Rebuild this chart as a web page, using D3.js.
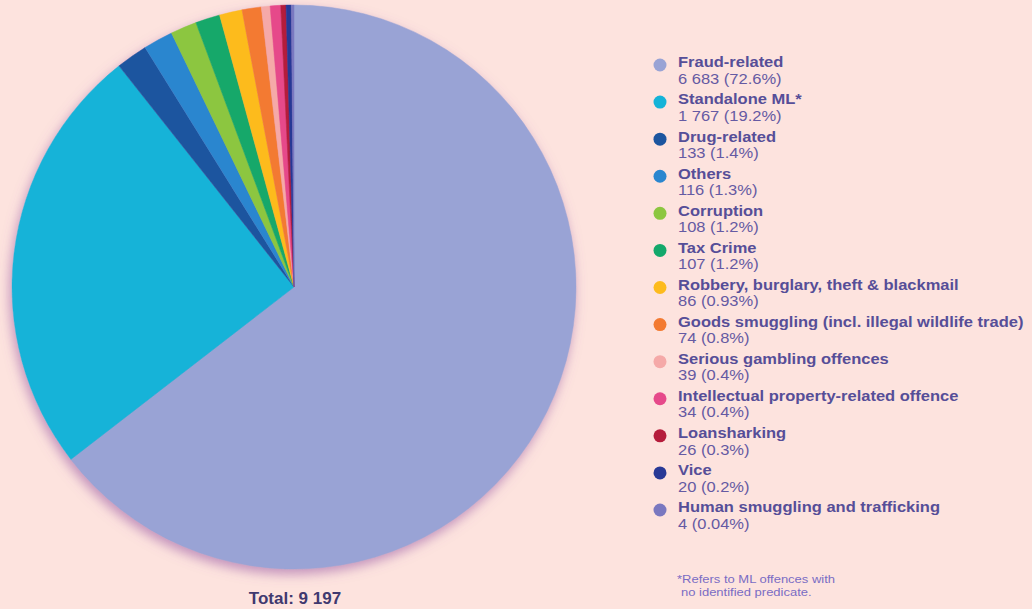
<!DOCTYPE html>
<html>
<head>
<meta charset="utf-8">
<script src="https://cdn.jsdelivr.net/npm/d3@7"></script>
<style>
  body { margin: 0; background: #fde3de; }
  svg { display: block; }
</style>
</head>
<body>
<script>
//Width and height
const w = 1032;
const h = 609;

// predicate offences (legend order = slice order)
const categories = ["Fraud-related", "Standalone ML*", "Drug-related", "Others", "Corruption",
    "Tax Crime", "Robbery, burglary, theft & blackmail",
    "Goods smuggling (incl. illegal wildlife trade)", "Serious gambling offences",
    "Intellectual property-related offence", "Loansharking", "Vice",
    "Human smuggling and trafficking"];
const counts = [6683, 1767, 133, 116, 108, 107, 86, 74, 39, 34, 26, 20, 4];
const percentLabels = ["72.6%", "19.2%", "1.4%", "1.3%", "1.2%", "1.2%", "0.93%", "0.8%",
    "0.4%", "0.4%", "0.3%", "0.2%", "0.04%"];
// share of the circle each slice takes in the original graphic (small ones are enlarged there)
const drawnShare = [64.5, 24.8, 1.8, 1.7, 1.5, 1.4, 1.3, 1.1, 0.5, 0.6, 0.3, 0.3, 0.15];

const colors = ["#99a3d5", "#14b3d8", "#1c559f", "#2a86cf", "#8cc640", "#13a86b", "#fdbb1d",
    "#f37a31", "#f5a9a8", "#e6498a", "#b51c3b", "#283996", "#7a78c0"];

const cx = 294, cy = 287, r = 282;

const svg = d3.select("body")
            .append("svg")
            .attr("width", w)
            .attr("height", h);

svg.append("rect")
    .attr("width", w)
    .attr("height", h)
    .attr("fill", "#fde3de");

const defs = svg.append("defs");
const shadow = defs.append("filter")
    .attr("id", "pieShadow")
    .attr("x", "-10%").attr("y", "-10%")
    .attr("width", "120%").attr("height", "120%");
shadow.append("feDropShadow")
    .attr("dx", -2)
    .attr("dy", 5)
    .attr("stdDeviation", 6)
    .attr("flood-color", "#9b5aa6")
    .attr("flood-opacity", 0.6);

const pie = d3.pie().sort(null).value((d) => d);
const arc = d3.arc().innerRadius(0).outerRadius(r);

const pieG = svg.append("g")
    .attr("transform", "translate(" + cx + "," + cy + ")")
    .attr("filter", "url(#pieShadow)");

pieG.selectAll("path")
    .data(pie(drawnShare))
    .join("path")
    .attr("d", arc)
    .attr("fill", (d, i) => colors[i])
    .attr("stroke", (d, i) => colors[i])
    .attr("stroke-width", 0.5);

// total under the pie
const fmt = (v) => d3.format(",")(v).replace(/,/g, " ");
svg.append("text")
    .attr("x", 295)
    .attr("y", 604)
    .attr("text-anchor", "middle")
    .attr("font-family", "'Liberation Sans', Arial, sans-serif")
    .attr("font-weight", "bold")
    .attr("font-size", "17px")
    .attr("fill", "#40396f")
    .text("Total: " + fmt(d3.sum(counts)));

//Legend
const legendY = d3.scaleLinear().domain([0, categories.length - 1]).range([63, 508]);

const items = svg.selectAll("g.item")
    .data(categories)
    .join("g")
    .attr("class", "item")
    .attr("transform", (d, i) => "translate(660," + legendY(i) + ")");

items.append("circle")
    .attr("cx", 0)
    .attr("cy", 2)
    .attr("r", 6.5)
    .attr("fill", (d, i) => colors[i]);

const txt = items.append("g")
    .attr("transform", "translate(18,0) scale(1,0.88)")
    .attr("font-family", "'Liberation Sans', Arial, sans-serif")
    .attr("font-size", "16.5px");

txt.append("text")
    .attr("x", 0)
    .attr("y", 5)
    .attr("font-weight", "bold")
    .attr("fill", "#564e98")
    .text((d) => d);

txt.append("text")
    .attr("x", 0)
    .attr("y", 23.5)
    .attr("fill", "#655aa3")
    .text((d, i) => fmt(counts[i]) + " (" + percentLabels[i] + ")");

// footnote
const note = svg.append("g")
    .attr("transform", "translate(677,0) scale(1,0.85)")
    .attr("font-family", "'Liberation Sans', Arial, sans-serif")
    .attr("font-size", "13px")
    .attr("fill", "#7a6cc4");
note.append("text").attr("x", 0).attr("y", 583 / 0.85).text("*Refers to ML offences with");
note.append("text").attr("x", 4).attr("y", 596 / 0.85).text("no identified predicate.");
</script>
</body>
</html>
